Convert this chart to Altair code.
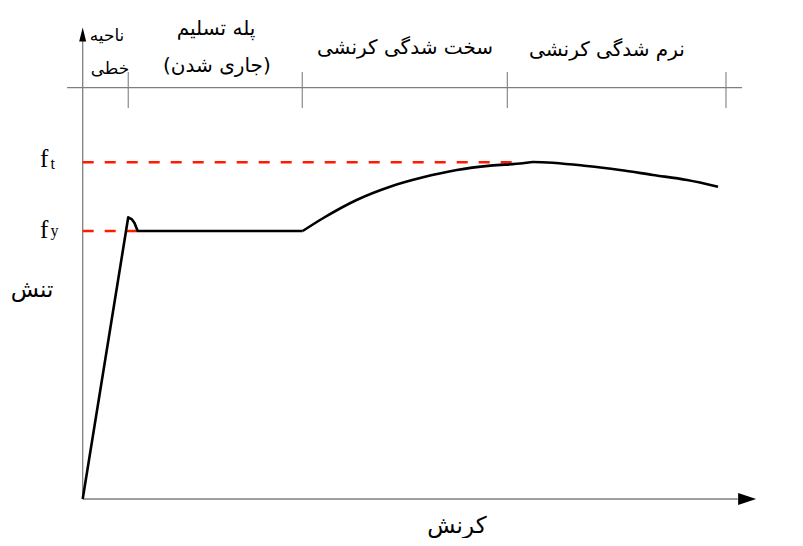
import altair as alt
import pandas as pd

# ---- data (strain in per mille, stress in MPa) ----
# elastic rise, small upper-yield hump and yield plateau
plateau_strain = [0, 2.07, 2.24, 2.355, 2.445, 2.5, 10.0]
plateau_stress = [0, 420.4, 417.2, 411.9, 404.5, 400, 400]
# strain hardening and softening branch
harden_strain = [10.0, 10.92, 12.45, 13.97, 15.47, 17.01, 18.53, 20.01, 20.47,
                 22.92, 24.42, 25.92, 27.47, 28.88]
harden_stress = [400, 419.0, 446.3, 466.1, 480.1, 491.0, 497.5, 501.0, 503.0,
                 497.0, 491.0, 483.6, 476.1, 466.1]

fy = 400.0
ft = 502.5
fy_strain_end = 2.5
ft_strain_end = 19.65

region_bounds = [2.07, 9.98, 19.3, 29.24]
band_level = 613.9
band_top = 637.3
band_bottom = 583.6
band_start = -0.71
band_end = 29.97

x_axis_end = 29.78
y_axis_end = 688.0
x_arrow = 30.2
y_arrow = 693.3

region_labels = ["ناحیه", "خطی", "پله تسلیم", "(جاری شدن)", "سخت شدگی کرنشی", "نرم شدگی کرنشی"]
region_label_x = [1.105, 1.24, 6.06, 6.1, 14.65, 23.83]
region_label_y = [691.0, 641.8, 701.5, 646.3, 673.1, 670.1]
region_label_size = [17, 17, 20, 20, 20, 20]

axis_titles = ["تنش", "کرنش"]
axis_title_x = [-2.3, 17.01]
axis_title_y = [311.9, -40.3]

sym_main = ["f", "f"]
sym_main_x = [-1.94, -1.94]
sym_main_y = [495.5, 389.6]
sym_sub = ["t", "y"]
sym_sub_x = [-1.46, -1.46]
sym_sub_y = [492.5, 392.5]

# ---- scales ----
X_DOM = [-3.395, 32.377]
Y_DOM = [-58.2, 732.8]
xs = alt.Scale(domain=X_DOM, nice=False, zero=False)
ys = alt.Scale(domain=Y_DOM, nice=False, zero=False)

def X(f="x"):
    return alt.X(f"{f}:Q", scale=xs, axis=None)

def Y(f="y"):
    return alt.Y(f"{f}:Q", scale=ys, axis=None)

GRAY = "#7f7f7f"

p_df = pd.DataFrame({"x": plateau_strain, "y": plateau_stress, "i": list(range(len(plateau_strain)))})
plateau = alt.Chart(p_df).mark_line(color="black", strokeWidth=2.6, strokeJoin="round").encode(
    x=X(), y=Y(), order="i:Q")

h_df = pd.DataFrame({"x": harden_strain, "y": harden_stress, "i": list(range(len(harden_strain)))})
harden = alt.Chart(h_df).mark_line(color="black", strokeWidth=2.6, interpolate="monotone").encode(
    x=X(), y=Y(), order="i:Q")

dash_df = pd.DataFrame({"x": [0, 0], "x2": [fy_strain_end, ft_strain_end], "y": [fy, ft]})
dashes = alt.Chart(dash_df).mark_rule(color="#ff1a00", strokeWidth=2.6, strokeDash=[11, 11]).encode(
    x=X(), x2="x2:Q", y=Y())

axes_df = pd.DataFrame({"x": [0, 0], "x2": [x_axis_end, 0], "y": [0, 0], "y2": [0, y_axis_end]})
axes = alt.Chart(axes_df).mark_rule(color=GRAY, strokeWidth=1.3).encode(
    x=X(), x2="x2:Q", y=Y(), y2="y2:Q")

band_df = pd.DataFrame({"x": [band_start], "x2": [band_end], "y": [band_level]})
band = alt.Chart(band_df).mark_rule(color=GRAY, strokeWidth=1.3).encode(
    x=X(), x2="x2:Q", y=Y())

ticks_df = pd.DataFrame({"x": region_bounds, "y": [band_top] * 4, "y2": [band_bottom] * 4})
ticks = alt.Chart(ticks_df).mark_rule(color=GRAY, strokeWidth=1.1).encode(
    x=X(), y=Y(), y2="y2:Q")

up_df = pd.DataFrame({"x": [0], "y": [y_arrow]})
up_arrow = alt.Chart(up_df).mark_point(
    shape="M0,-1L0.5,1L-0.5,1Z", size=196, filled=True, color="black", opacity=1, strokeWidth=0
).encode(x=X(), y=Y())

right_df = pd.DataFrame({"x": [x_arrow], "y": [0]})
right_arrow = alt.Chart(right_df).mark_point(
    shape="M1,0L-1,-0.667L-1,0.667Z", size=324, filled=True, color="black", opacity=1, strokeWidth=0
).encode(x=X(), y=Y())

rl_df = pd.DataFrame({"x": region_label_x, "y": region_label_y, "t": region_labels, "s": region_label_size})
rlabels = alt.Chart(rl_df).mark_text(font="DejaVu Sans", color="black", align="center", baseline="middle").encode(
    x=X(), y=Y(), text="t:N", size=alt.Size("s:Q", scale=None, legend=None))

at_df = pd.DataFrame({"x": axis_title_x, "y": axis_title_y, "t": axis_titles})
atitles = alt.Chart(at_df).mark_text(font="DejaVu Sans", fontSize=23, color="black", align="center", baseline="middle").encode(
    x=X(), y=Y(), text="t:N")

sm_df = pd.DataFrame({"x": sym_main_x, "y": sym_main_y, "t": sym_main})
smain = alt.Chart(sm_df).mark_text(font="Liberation Serif", fontSize=25, color="black", align="left", baseline="alphabetic").encode(
    x=X(), y=Y(), text="t:N")

ss_df = pd.DataFrame({"x": sym_sub_x, "y": sym_sub_y, "t": sym_sub})
ssub = alt.Chart(ss_df).mark_text(font="Liberation Serif", fontSize=16, color="black", align="left", baseline="alphabetic").encode(
    x=X(), y=Y(), text="t:N")

chart = alt.layer(
    axes, band, ticks, dashes, plateau, harden, up_arrow, right_arrow, rlabels, atitles, smain, ssub
).properties(
    width=787, height=530, padding=0, autosize=alt.AutoSizeParams(type="none"), background="white"
).configure_view(stroke=None)

chart.save("out.html", embed_options={"renderer": "svg", "actions": False})
